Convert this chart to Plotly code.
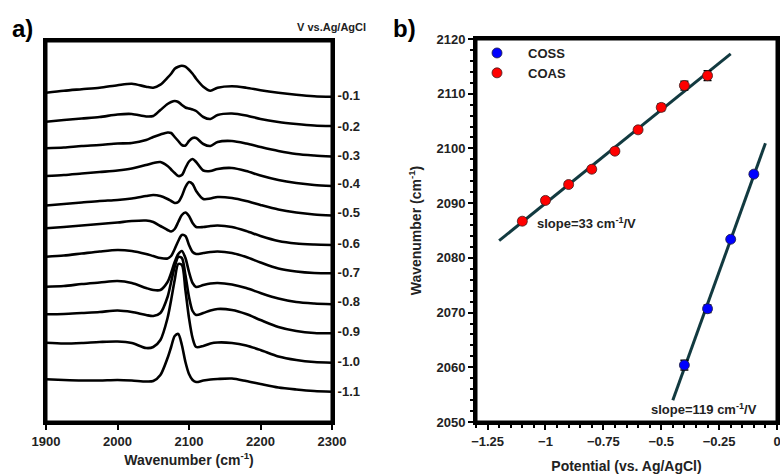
import numpy as np
import plotly.graph_objects as go

# ---------------- Panel a) : SERS spectra ----------------
wavenumber = [1900, 1925, 1950, 1975, 2000, 2020, 2040, 2050, 2060, 2070, 2075, 2080, 2085,
              2090, 2095, 2100, 2105, 2110, 2120, 2130, 2140, 2160, 2180, 2200, 2225, 2250,
              2275, 2300]

potential_labels = ["-0.1", "-0.2", "-0.3", "-0.4", "-0.5", "-0.6",
                    "-0.7", "-0.8", "-0.9", "-1.0", "-1.1"]
# vertical offsets of each spectrum (a.u.)
offsets = [326.3, 296, 267, 238.7, 209.7, 178.7, 149.3, 120.3, 90.3, 61, 31]

spec_m01 = [3, 5, 6.5, 8, 10.5, 12, 9, 8, 11, 18, 22, 27, 29, 30, 29, 26, 22, 17, 9, 5, 8, 9.5, 8, 5.5, 3, 1, -0.5, -1]
spec_m02 = [4.3, 6, 7.5, 9, 11.5, 12, 9.5, 10, 16, 22, 24, 25, 24, 21, 18.5, 17.5, 16.5, 15, 9, 7, 11, 12.5, 10.5, 7, 4, 2, 0.5, 0]
spec_m03 = [6.7, 7.5, 9, 10, 11.5, 12, 15, 18, 20.5, 22.5, 22, 18, 14, 10, 9.5, 14, 17, 17, 11, 9, 13, 14, 11.5, 8, 4, 1, -0.5, -1.5]
spec_m04 = [7.3, 8.3, 9.8, 11.3, 12.8, 14.8, 18.3, 20.3, 21.3, 17.3, 13.8, 10.3, 7.3, 8.3, 15.3, 21.8, 24.3, 21.3, 12.8, 12.3, 14.3, 15.3, 12.3, 7.8, 3.3, 0.3, -1.7, -2.7]
spec_m05 = [6.8, 8.3, 9.8, 11.3, 12.3, 13.8, 16.3, 17.3, 16.3, 13.3, 11.3, 9.3, 10.3, 16.3, 25.3, 30.3, 28.3, 21.3, 13.3, 13.8, 15.3, 14.3, 11.3, 7.3, 2.8, -0.2, -2.2, -3.2]
spec_m06 = [15, 16.3, 17.8, 19.3, 20.8, 22.3, 22.8, 21.3, 17.3, 13.3, 11.8, 14.3, 21.3, 28.3, 30.8, 27.3, 20.3, 16.3, 16.3, 17.3, 17.8, 16.3, 12.3, 7.3, 2.3, -0.2, -1.2, -1.7]
spec_m07 = [16, 17.2, 19.2, 21.2, 22.7, 21.7, 18.7, 16.7, 14.7, 14.2, 16.7, 23.7, 31.7, 37.7, 36.7, 27.7, 20.7, 18.7, 19.7, 20.7, 21.2, 19.7, 15.7, 10.2, 4.2, 1.2, -0.3, -0.6]
spec_m08 = [15, 15.7, 17.7, 19.2, 20.7, 18.7, 13.7, 11.7, 11.7, 19.7, 28.7, 39.7, 47.7, 50.7, 43.7, 29.7, 18.7, 14.7, 16.7, 18.2, 18.7, 17.2, 13.7, 8.7, 3.2, -0.3, -1.8, -2.6]
spec_m09 = [17.4, 17.7, 18.7, 19.7, 21.2, 19.7, 16.7, 15.7, 18.7, 34.7, 49.7, 64.7, 74.7, 73.7, 56.7, 34.7, 20.7, 16.7, 18.7, 21.2, 22.7, 21.7, 17.7, 11.7, 4.7, 0.7, -1.3, -1.6]
spec_m10 = [18.3, 17.5, 18, 19, 19.5, 18, 13, 14, 21, 43, 61, 81, 97, 96, 71, 43, 23, 14, 15, 17.5, 18.5, 18, 15.5, 11, 4.5, 1, -1, -1.7]
spec_m11 = [11.7, 11, 10.5, 10.5, 11, 10.5, 9.5, 10, 16, 33, 44, 55, 57, 46, 29, 17, 11, 9, 10.5, 11.5, 12, 12.5, 10, 7, 3.5, 1.5, 0, -0.7]

spectra = [spec_m01, spec_m02, spec_m03, spec_m04, spec_m05, spec_m06,
           spec_m07, spec_m08, spec_m09, spec_m10, spec_m11]

# ---------------- Panel b) : peak position vs potential ----------------
coas_potential = [-1.1, -1.0, -0.9, -0.8, -0.7, -0.6, -0.5, -0.4, -0.3]
coas_wavenumber = [2086.7, 2090.5, 2093.4, 2096.2, 2099.5, 2103.4, 2107.5, 2111.5, 2113.3]
coas_error = [0.5, 0.5, 0.5, 0.5, 0.5, 0.5, 0.6, 0.8, 0.9]

coss_potential = [-0.4, -0.3, -0.2, -0.1]
coss_wavenumber = [2060.4, 2070.7, 2083.4, 2095.3]
coss_error = [0.9, 0.7, 0.4, 0.4]

coas_fit_range = [-1.2, -0.2]
coss_fit_range = [-0.45, -0.05]

FONT = "Liberation Sans, Arial, sans-serif"
FIT_COLOR = "#123a40"

fig = go.Figure()

for vals, off in zip(spectra, offsets):
    fig.add_trace(go.Scatter(
        x=wavenumber, y=[v + off for v in vals], mode="lines",
        line=dict(color="black", width=2.6, shape="spline", smoothing=0.8),
        showlegend=False, hoverinfo="skip", xaxis="x", yaxis="y"))

# fit lines
for px, py, rng in [(coas_potential, coas_wavenumber, coas_fit_range),
                    (coss_potential, coss_wavenumber, coss_fit_range)]:
    k, b = np.polyfit(px, py, 1)
    xs = np.array(rng)
    fig.add_trace(go.Scatter(x=xs, y=k * xs + b, mode="lines",
                             line=dict(color=FIT_COLOR, width=3),
                             showlegend=False, hoverinfo="skip",
                             xaxis="x2", yaxis="y2"))

fig.add_trace(go.Scatter(
    x=coss_potential, y=coss_wavenumber, mode="markers", name="COSS",
    marker=dict(color="#0000ff", size=10, line=dict(color="#202040", width=0.8)),
    error_y=dict(type="data", array=coss_error, color="black", thickness=1.5, width=4),
    xaxis="x2", yaxis="y2"))
fig.add_trace(go.Scatter(
    x=coas_potential, y=coas_wavenumber, mode="markers", name="COAS",
    marker=dict(color="#ff0000", size=10, line=dict(color="#402020", width=0.8)),
    error_y=dict(type="data", array=coas_error, color="black", thickness=1.5, width=4),
    xaxis="x2", yaxis="y2"))

W, H = 780, 476
def px_x(p): return p / W
def px_y(p): return 1 - p / H

# panel frames in window pixels: (left, right, top, bottom)
frame_a = (46, 332, 41, 422)
frame_b = (476, 777, 39, 422)

axis_common = dict(showline=True, linecolor="black", linewidth=3, mirror=True,
                   showgrid=False, zeroline=False, automargin=False,
                   ticklabeloverflow="allow")
tick_font = dict(family=FONT, size=13, color="#222", weight="bold")
title_font = dict(family=FONT, size=14, color="#222", weight="bold")

frames = [dict(type="rect", xref="paper", yref="paper",
               x0=px_x(l), x1=px_x(r), y0=px_y(b), y1=px_y(t),
               line=dict(color="black", width=3),
               fillcolor="rgba(0,0,0,0)", layer="above")
          for l, r, t, b in [frame_a, frame_b]]

fig.update_layout(
    width=W, height=H, margin=dict(l=0, r=0, t=0, b=0, autoexpand=False),
    paper_bgcolor="white", plot_bgcolor="white",
    font=dict(family=FONT, color="#222"),
    shapes=frames,
    xaxis=dict(domain=[px_x(frame_a[0]), px_x(frame_a[1])], range=[1900, 2300], anchor="y",
               tickvals=[1900, 2000, 2100, 2200, 2300], ticks="outside",
               ticklen=5, tickwidth=2, tickcolor="black", tickfont=tick_font,
               title=dict(text="Wavenumber (cm<sup>-1</sup>)", font=title_font, standoff=8),
               **axis_common),
    yaxis=dict(domain=[px_y(frame_a[3]), px_y(frame_a[2])], range=[0, 381], anchor="x", side="right",
               tickvals=offsets, ticktext=potential_labels, ticks="",
               tickfont=tick_font, **axis_common),
    xaxis2=dict(domain=[px_x(frame_b[0]), px_x(frame_b[1])], range=[-1.3, 0], anchor="y2",
                tickvals=[-1.25, -1, -0.75, -0.5, -0.25, 0],
                ticktext=["\u22121.25", "\u22121", "\u22120.75", "\u22120.5", "\u22120.25", "0"],
                ticks="outside", ticklen=5, tickwidth=2, tickcolor="black",
                minor=dict(dtick=0.05, ticks="outside", ticklen=3, tickwidth=1.5, tickcolor="black"),
                tickfont=tick_font,
                title=dict(text="Potential (vs. Ag/AgCl)", font=title_font, standoff=14),
                **axis_common),
    yaxis2=dict(domain=[px_y(frame_b[3]), px_y(frame_b[2])], range=[2050, 2120], anchor="x2",
                dtick=10, ticks="outside", ticklen=5, tickwidth=2, tickcolor="black",
                minor=dict(dtick=2, ticks="outside", ticklen=3, tickwidth=1.5, tickcolor="black"),
                tickfont=tick_font,
                title=dict(text="Wavenumber (cm<sup>-1</sup>)", font=title_font, standoff=12),
                **axis_common),
    legend=dict(x=px_x(466), y=px_y(38), xanchor="left", yanchor="top",
                bgcolor="rgba(0,0,0,0)", font=dict(family=FONT, size=13, color="#222", weight="bold"),
                itemwidth=52, tracegroupgap=0),
    annotations=[
        dict(text="a)", x=px_x(10), y=px_y(28), xref="paper", yref="paper",
             xanchor="left", yanchor="middle", showarrow=False,
             font=dict(family=FONT, size=24, color="black", weight="bold")),
        dict(text="b)", x=px_x(391), y=px_y(28), xref="paper", yref="paper",
             xanchor="left", yanchor="middle", showarrow=False,
             font=dict(family=FONT, size=24, color="black", weight="bold")),
        dict(text="V vs.Ag/AgCl", x=px_x(368), y=px_y(27), xref="paper", yref="paper",
             xanchor="right", yanchor="middle", showarrow=False,
             font=dict(family=FONT, size=11, color="#222", weight="bold")),
        dict(text="slope=33 cm<sup>-1</sup>/V", x=-1.045, y=2086.3, xref="x2", yref="y2",
             xanchor="left", yanchor="middle", showarrow=False,
             font=dict(family=FONT, size=13, color="#222", weight="bold")),
        dict(text="slope=119 cm<sup>-1</sup>/V", x=-0.555, y=2052.3, xref="x2", yref="y2",
             xanchor="left", yanchor="middle", showarrow=False,
             font=dict(family=FONT, size=13, color="#222", weight="bold")),
    ],
)

# remove the browser's default 8px body margin so the 780x476 figure fills the window
fig.write_html("out.html", config={"displayModeBar": False},
               post_script="document.body.style.margin='0';document.body.style.overflow='hidden';")
